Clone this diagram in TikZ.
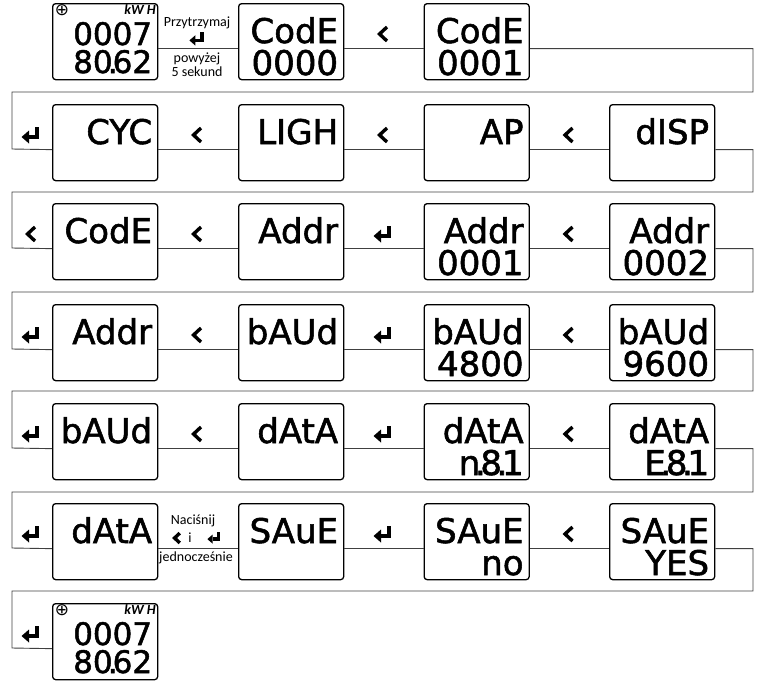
\documentclass[tikz,border=0pt]{standalone}
\usepackage{fontspec}
\setmainfont{Carlito}
\newfontfamily\segfont[FakeBold=1.6]{DejaVu Sans}
\newfontfamily\symfont{DejaVu Sans}
\usetikzlibrary{calc}

\newcommand{\segdot}{\makebox[0pt]{.}}
% one display window: name, left, top, upper line, lower line
\newcommand{\display}[5]{%
  \node[lcd] (#1) at (#2,#3) {};
  \node[seg] (#1u) at ([xshift=-6pt,yshift=-40pt]#1.north east) {#4};
  \node[seg] (#1l) at ([xshift=-6pt,yshift=-72pt]#1.north east) {#5};
}

\tikzset{
  lcd/.style={draw, line width=1.3pt, rounded corners=3pt, minimum width=105pt,
    minimum height=76pt, inner sep=0pt, anchor=north west},
  seg/.style={font=\segfont\fontsize{34}{34}\selectfont, inner sep=0pt, anchor=base east},
  meterdigits/.style={seg, font=\segfont\fontsize{31}{31}\selectfont},
  note/.style={font=\fontsize{14}{14}\selectfont, inner sep=0pt},
  meter/.style={font=\symfont\fontsize{17}{17}\selectfont, inner sep=0pt},
  unit/.style={font=\bfseries\itshape\fontsize{14}{14}\selectfont, inner sep=0pt, anchor=north east},
  link/.style={line width=0.9pt, black!75},
  enterkey/.pic={
    \draw[line width=3.4pt] (6,-7) |- (-2,3);
    \fill (-9.5,3) -- (-2,-3.5) -- (-2,9.5) -- cycle;
  },
  backkey/.pic={
    \draw[line width=3.4pt] (4,-7) -- (-3.5,0) -- (4,7);
  }
}

\begin{document}
\begin{tikzpicture}[x=1pt, y=-1pt]
\useasboundingbox (0,0) rectangle (757,686);
% row 1
\node[lcd] (r1a) at (52,3) {};
\node[meterdigits] (r1au) at ([xshift=-6pt,yshift=-42pt]r1a.north east) {0007};
\node[meterdigits] (r1al) at ([xshift=-6pt,yshift=-70pt]r1a.north east) {80\segdot 62};
\node[meter] (r1aplus) at (62,10) {⊕};
\node[unit] (r1akwh) at (156,4) {kW H};
\display{r1b}{238}{3}{CodE}{0000}
\display{r1c}{423.5}{3}{CodE}{0001}
\node[note] (hold1) at (197,23) {Przytrzymaj};
\pic[scale=0.8] at (197,38) {enterkey};
\node[note] (hold2) at (197,59) {powyżej};
\node[note] (hold3) at (197,72) {5 sekund};
\pic at (383,34) {backkey};
% row 2
\display{r2a}{52}{104}{CYC}{}
\display{r2b}{238}{104}{LIGH}{}
\display{r2c}{423.5}{104}{AP}{}
\display{r2d}{609}{104}{dISP}{}
\pic at (31,134) {enterkey};
\pic at (197,135) {backkey};
\pic at (383,135) {backkey};
\pic at (568.5,135) {backkey};
% row 3
\display{r3a}{52}{203}{CodE}{}
\display{r3b}{238}{203}{Addr}{}
\display{r3c}{423.5}{203}{Addr}{0001}
\display{r3d}{609}{203}{Addr}{0002}
\pic at (31,234) {backkey};
\pic at (197,234) {backkey};
\pic at (383,233) {enterkey};
\pic at (568.5,234) {backkey};
% row 4
\display{r4a}{52}{304}{Addr}{}
\display{r4b}{238}{304}{bAUd}{}
\display{r4c}{423.5}{304}{bAUd}{4800}
\display{r4d}{609}{304}{bAUd}{9600}
\pic at (31,334) {enterkey};
\pic at (197,335) {backkey};
\pic at (383,334) {enterkey};
\pic at (568.5,335) {backkey};
% row 5
\display{r5a}{52}{403}{bAUd}{}
\display{r5b}{238}{403}{dAtA}{}
\display{r5c}{423.5}{403}{dAtA}{n\segdot 8\segdot 1}
\display{r5d}{609}{403}{dAtA}{E\segdot 8\segdot 1}
\pic at (31,433) {enterkey};
\pic at (197,434) {backkey};
\pic at (383,433) {enterkey};
\pic at (568.5,434) {backkey};
% row 6
\display{r6a}{52}{503}{dAtA}{}
\display{r6b}{238}{503}{SAuE}{}
\display{r6c}{423.5}{503}{SAuE}{no}
\display{r6d}{609}{503}{SAuE}{YES}
\pic at (31,533) {enterkey};
\node[note] (both1) at (193,521) {Naciśnij};
\pic[scale=0.7] at (177,538) {backkey};
\node[note] (both2) at (190,538) {i};
\pic[scale=0.7] at (214,537) {enterkey};
\node[note] (both3) at (196,558) {jednocześnie};
\pic at (383,533) {enterkey};
\pic at (568.5,534) {backkey};
% row 7
\node[lcd] (r7a) at (52,603) {};
\node[meterdigits] (r7au) at ([xshift=-6pt,yshift=-42pt]r7a.north east) {0007};
\node[meterdigits] (r7al) at ([xshift=-6pt,yshift=-70pt]r7a.north east) {80\segdot 62};
\node[meter] (r7aplus) at (62,610) {⊕};
\node[unit] (r7akwh) at (156,604) {kW H};
\pic at (31,633) {enterkey};
% connectors
\foreach \a/\b in {r1a/r1b, r1b/r1c, r2a/r2b, r2b/r2c, r2c/r2d, r3a/r3b, r3b/r3c, r3c/r3d,
  r4a/r4b, r4b/r4c, r4c/r4d, r5a/r5b, r5b/r5c, r5c/r5d, r6a/r6b, r6b/r6c, r6c/r6d}
  \draw[link] ([yshift=-7pt]\a.east) -- ([yshift=-7pt]\b.west);
\draw[link] ([yshift=-7pt]r1c.east) -| (753,92) -| (12,149) -- ([yshift=-7pt]r2a.west);
\draw[link] ([yshift=-7pt]r2d.east) -| (753,192) -| (12,248) -- ([yshift=-7pt]r3a.west);
\draw[link] ([yshift=-7pt]r3d.east) -| (753,292) -| (12,349) -- ([yshift=-7pt]r4a.west);
\draw[link] ([yshift=-7pt]r4d.east) -| (753,391) -| (12,448) -- ([yshift=-7pt]r5a.west);
\draw[link] ([yshift=-7pt]r5d.east) -| (753,492) -| (12,548) -- ([yshift=-7pt]r6a.west);
\draw[link] ([yshift=-7pt]r6d.east) -| (753,591) -| (12,648) -- ([yshift=-7pt]r7a.west);
\end{tikzpicture}
\end{document}
